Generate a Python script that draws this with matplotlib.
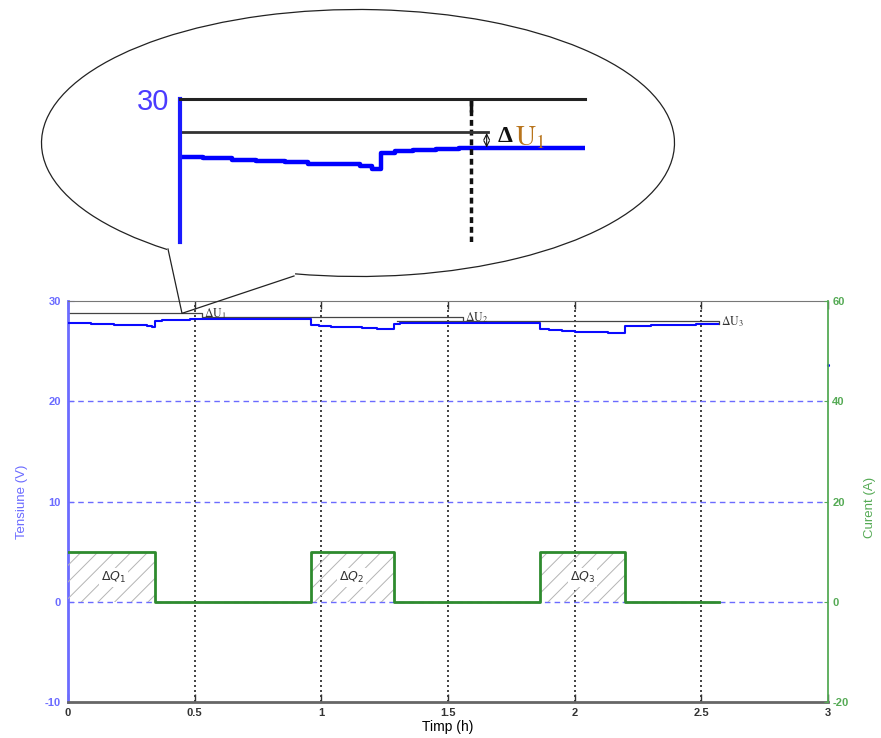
import numpy as np
import matplotlib.pyplot as plt
from matplotlib.patches import Arc

plt.rcParams['font.family'] = 'Liberation Sans'
plt.rcParams['hatch.linewidth'] = 0.7
plt.rcParams['axes.unicode_minus'] = False

# #### Values
# battery voltage (V), step trace: value holds from each time (h) on
t_volt = [0.00, 0.04, 0.09, 0.13, 0.18, 0.22, 0.27, 0.31, 0.33, 0.345, 0.37, 0.40, 0.44, 0.48,
          0.96, 0.99, 1.04, 1.10, 1.16, 1.22, 1.285, 1.31, 1.36,
          1.865, 1.90, 1.95, 2.00, 2.07, 2.13, 2.20, 2.23, 2.30, 2.40, 2.48, 2.565]
volt = [27.85, 27.80, 27.75, 27.70, 27.65, 27.60, 27.58, 27.50, 27.42, 28.00, 28.08, 28.12, 28.15, 28.18,
        27.62, 27.50, 27.42, 27.38, 27.30, 27.25, 27.72, 27.78, 27.83,
        27.20, 27.12, 27.05, 26.95, 26.90, 26.82, 27.48, 27.55, 27.60, 27.65, 27.68, 27.70]

# charging current (A)
t_curr = [0.0, 0.345, 0.96, 1.285, 1.865, 2.20, 2.57]
curr = [10, 0, 10, 0, 10, 0, 0]

# voltage reference levels (dU marks)
du_names = ['1', '2', '3']
du_level = [28.77, 28.37, 28.00]
du_start = [0.0, 0.53, 1.30]
du_end = [0.53, 1.56, 2.57]

# charge labels inside the pulses
dq_names = ['1', '2', '3']
dq_t = [0.18, 1.12, 2.03]
dq_i = 4.8

# lone sample on the right border
stray_t = [3.0]
stray_v = [23.6]

x_ticks = [0, 0.5, 1, 1.5, 2, 2.5, 3]
x_labels = ['0', '0.5', '1', '1.5', '2', '2.5', '3']
v_ticks = [-10, 0, 10, 20, 30]
i_ticks = [-20, 0, 20, 40, 60]

# window shown magnified in the callout
zoom_tmax = 0.696
zoom_vmin = 24.7
zoom_mark = 0.5

# #### Colours
c_volt = '#0a0aff'
c_vax = '#6b6bff'
c_curr = '#2e8b2e'
c_cax = '#55aa55'
c_txt = '#333333'

W, H = 881, 738
fig = plt.figure(figsize=(W / 100, H / 100), dpi=100, facecolor='w')

# #### Main axes
ax = fig.add_axes([68 / W, 1 - 702 / H, 760 / W, 401 / H])
ax.set_xlim(0, 3)
ax.set_ylim(-10, 30)

for x in x_ticks[1:-1]:
    ax.axvline(x, color='#222222', ls=(0, (1.2, 1.8)), lw=1.2, zorder=1)
for y in v_ticks[1:-1]:
    ax.axhline(y, color=c_vax, ls=(0, (4, 3)), lw=1, zorder=1)

ax.plot(t_volt, volt, drawstyle='steps-post', color=c_volt, lw=1.5, zorder=3)
ax.plot(stray_t, stray_v, '.', ms=2.5, color=c_volt, clip_on=False, zorder=4)

for n, lvl, s, e in zip(du_names, du_level, du_start, du_end):
    ax.plot([s, e, e], [lvl, lvl, lvl - 0.25], color='#444444', lw=0.9, zorder=2)
    ax.text(e + 0.008, lvl - 0.05, r'$\Delta\mathrm{U}_%s$' % n, math_fontfamily='stix',
            fontsize=8.5, color=c_txt, va='center', ha='left')

ax.spines['left'].set_color(c_vax)
ax.spines['left'].set_linewidth(2)
ax.spines['bottom'].set_color('#666666')
ax.spines['bottom'].set_linewidth(2)
ax.spines['top'].set_color('#777777')
ax.spines['right'].set_visible(False)

ax.set_xticks(x_ticks, x_labels)
ax.set_yticks(v_ticks)
ax.tick_params(axis='x', direction='in', length=6, width=1, top=True, labelsize=8,
               pad=4, labelcolor=c_txt, color='#333333')
ax.tick_params(axis='y', direction='in', length=4, colors=c_vax, labelsize=8, pad=5)
for lab in ax.get_xticklabels() + ax.get_yticklabels():
    lab.set_fontweight('bold')

ax.set_xlabel('Timp (h)', fontsize=10)
ax.xaxis.set_label_coords(0.5, -0.045)
ax.set_ylabel('Tensiune (V)', color=c_vax, fontsize=9.5)
ax.yaxis.set_label_coords(-0.053, 0.5)

# current on the right axis
tw = ax.twinx()
tw.set_ylim(-20, 60)
tw.set_yticks(i_ticks)
tw.fill_between(t_curr, 0, curr, step='post', facecolor='none', hatch='//',
                edgecolor='#b4b4b4', lw=0)
tw.plot(t_curr, curr, drawstyle='steps-post', color=c_curr, lw=2)
for n, t in zip(dq_names, dq_t):
    tw.text(t, dq_i, r'$\Delta Q_%s$' % n, ha='center', va='center', fontsize=9, color=c_txt,
            bbox=dict(facecolor='w', edgecolor='none', pad=1.5))

for side in ['left', 'top', 'bottom']:
    tw.spines[side].set_visible(False)
tw.spines['right'].set_color(c_cax)
tw.spines['right'].set_linewidth(1.3)
tw.tick_params(axis='y', direction='in', length=3, colors=c_cax, labelsize=8, pad=3)
for lab in tw.get_yticklabels():
    lab.set_fontweight('bold')
tw.set_ylabel('Curent (A)', color=c_cax, fontsize=9.5)
tw.yaxis.set_label_coords(1.048, 0.484)

# #### Callout bubble (pixel space overlay)
over = fig.add_axes([0, 0, 1, 1])
over.set_xlim(0, W)
over.set_ylim(H, 0)
over.axis('off')

cx, cy, ew, eh = 358, 143, 633, 267
tail_l = (168, 249)
tail_r = (294, 276)
tip = over.transData.inverted().transform(ax.transData.transform((0.45, du_level[0])))
a1 = np.degrees(np.arctan2(tail_l[1] - cy, tail_l[0] - cx))
a2 = np.degrees(np.arctan2(tail_r[1] - cy, tail_r[0] - cx))
over.add_patch(Arc((cx, cy), ew, eh, theta1=a1, theta2=a2, color='#222222', lw=0.9))
over.plot([tail_l[0], tip[0], tail_r[0]], [tail_l[1], tip[1], tail_r[1]], color='#222222', lw=0.9)

# #### Magnified view inside the bubble
ins = fig.add_axes([180 / W, 1 - 242 / H, 405 / W, 143 / H])
ins.set_facecolor('none')
ins.set_xlim(0, zoom_tmax)
ins.set_ylim(zoom_vmin, 30)
ins.plot(t_volt, volt, drawstyle='steps-post', color='#0000ff', lw=3.2)
ins.axvline(zoom_mark, color='#111111', ls=(0, (1.7, 1.1)), lw=2.5)
ins.plot([du_start[0], du_end[0]], [du_level[0]] * 2, color='#333333', lw=2)
ins.annotate('', xy=(0.527, 28.2), xytext=(0.527, 28.74),
             arrowprops=dict(arrowstyle='<->', lw=0.8, color='#111111', shrinkA=0, shrinkB=0))
ins.text(0.545, 28.6, '\u0394', fontsize=17, fontweight='bold', family='Liberation Serif',
         color='#111111', va='center', ha='left')
ins.text(0.576, 28.55, r'$\mathrm{U}_1$', math_fontfamily='stix', fontsize=20,
         color='#b8741c', va='center', ha='left')

ins.spines['left'].set_color('#1a1aff')
ins.spines['left'].set_linewidth(3)
ins.spines['top'].set_color('#222222')
ins.spines['top'].set_linewidth(2.2)
ins.spines['right'].set_visible(False)
ins.spines['bottom'].set_visible(False)
ins.set_xticks([zoom_mark])
ins.tick_params(axis='x', top=True, bottom=False, direction='in', length=9, width=2.5,
                labeltop=False, labelbottom=False, color='#111111')
ins.set_yticks([30], ['30'])
ins.tick_params(axis='y', length=0, pad=8, labelsize=21, labelcolor='#4b3bff')
for lab in ins.get_yticklabels():
    lab.set_family(['Liberation Sans Narrow', 'Liberation Sans'])

plt.savefig('out.png', dpi=100, facecolor='w')
